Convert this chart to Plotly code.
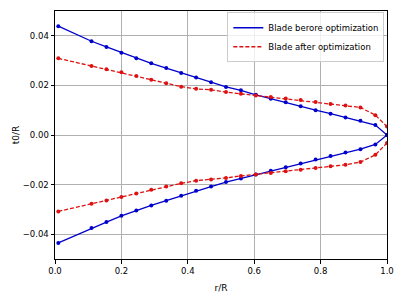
import plotly.graph_objects as go

x = [0.01, 0.11, 0.155, 0.2, 0.245, 0.29, 0.335, 0.38, 0.425, 0.47, 0.515,
     0.56, 0.605, 0.65, 0.695, 0.74, 0.785, 0.83, 0.875, 0.92, 0.965, 1.0]

before_upper = [0.0439, 0.0378, 0.0355, 0.0332, 0.0309, 0.0289, 0.0270, 0.0250, 0.0232, 0.0213, 0.0194,
                0.0180, 0.0162, 0.0146, 0.0132, 0.0116, 0.0100, 0.0086, 0.0071, 0.0057, 0.0040, 0.0000]
before_lower = [-0.0435, -0.0375, -0.0351, -0.0326, -0.0304, -0.0284, -0.0265, -0.0245, -0.0225, -0.0208, -0.0190,
                -0.0175, -0.0159, -0.0144, -0.0130, -0.0115, -0.0099, -0.0085, -0.0071, -0.0057, -0.0038, 0.0000]

after_upper = [0.0309, 0.0278, 0.0265, 0.0253, 0.0238, 0.0223, 0.0209, 0.0195, 0.0186, 0.0182, 0.0173,
               0.0166, 0.0159, 0.0153, 0.0147, 0.0141, 0.0133, 0.0125, 0.0119, 0.0111, 0.0080, 0.0034]
after_lower = [-0.0308, -0.0277, -0.0264, -0.0250, -0.0236, -0.0221, -0.0208, -0.0195, -0.0184, -0.0179, -0.0173,
               -0.0165, -0.0159, -0.0153, -0.0146, -0.0140, -0.0133, -0.0126, -0.0120, -0.0109, -0.0080, -0.0032]

BLUE = "#0000cc"
RED = "#dd1111"
DASH = "4px,2px"

fig = go.Figure()
for yv in (before_upper, before_lower):
    fig.add_trace(go.Scatter(x=x, y=yv, mode="lines+markers", showlegend=False,
                             line=dict(color=BLUE, width=1.3), marker=dict(size=4, color=BLUE)))
for yv in (after_upper, after_lower):
    fig.add_trace(go.Scatter(x=x, y=yv, mode="lines+markers", showlegend=False,
                             line=dict(color=RED, width=1.3, dash=DASH), marker=dict(size=4, color=RED)))

# legend entries (line only, as in the reference)
fig.add_trace(go.Scatter(x=[None], y=[None], mode="lines", name="Blade berore optimization",
                         line=dict(color=BLUE, width=1.3)))
fig.add_trace(go.Scatter(x=[None], y=[None], mode="lines", name="Blade after optimization",
                         line=dict(color=RED, width=1.3, dash=DASH)))

axis_common = dict(showline=True, linecolor="black", linewidth=1, mirror=True,
                   ticks="outside", ticklen=3.5, tickcolor="black",
                   showgrid=True, gridcolor="#b0b0b0", gridwidth=0.8, zeroline=False,
                   tickfont=dict(family="DejaVu Sans", size=8.5, color="black"))

fig.update_layout(
    width=404, height=301,
    margin=dict(l=55, r=17, t=10, b=37),
    paper_bgcolor="white", plot_bgcolor="white",
    font=dict(family="DejaVu Sans", size=9, color="black"),
    xaxis=dict(range=[0, 1], dtick=0.2, tickformat=".1f",
               title=dict(text="r/R", font=dict(size=9), standoff=9), **axis_common),
    yaxis=dict(range=[-0.05, 0.05], tickvals=[-0.04, -0.02, 0.0, 0.02, 0.04], tickformat=".2f",
               title=dict(text="t0/R", font=dict(size=9), standoff=1), **axis_common),
    legend=dict(x=0.992, y=0.995, xanchor="right", yanchor="top",
                bgcolor="rgba(255,255,255,0.8)", bordercolor="#cccccc", borderwidth=1,
                font=dict(size=8.5), tracegroupgap=0, itemwidth=30),
    showlegend=True,
)

fig.write_html("out.html")
